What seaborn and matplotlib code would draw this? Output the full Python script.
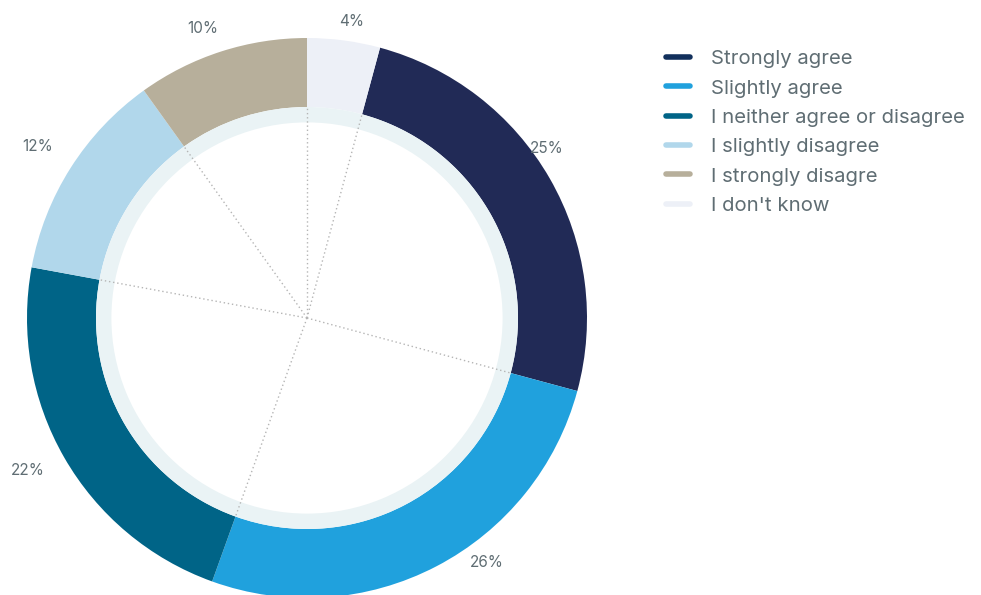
import numpy as np
import matplotlib.pyplot as plt
from matplotlib.lines import Line2D
import seaborn as sns

# data
categories = ["Strongly agree", "Slightly agree", "I neither agree or disagree",
              "I slightly disagree", "I strongly disagre", "I don't know"]
shares = [25.0, 26.3, 22.4, 12.2, 9.9, 4.2]
pct_labels = ["25%", "26%", "22%", "12%", "10%", "4%"]
colors = ["#212a56", "#20a1dd", "#006487", "#b1d7eb", "#b7af9b", "#edf0f7"]
legend_colors = ["#12305c", "#20a1dd", "#006487", "#b1d7eb", "#b7af9b", "#edf0f7"]

# label placement tweaks (degrees clockwise from slice middle, radius)
label_shift = [-5.4, -8.8, 1.3, 0.2, -1.9, 1.1]
label_radius = [1.05, 1.086, 1.135, 1.14, 1.10, 1.07]

sns.set_theme(style="white")
plt.rcParams["font.family"] = ["Inter", "DejaVu Sans"]
text_color = "#5f6d73"

fig = plt.figure(figsize=(9.81, 5.95), dpi=100)
W, H = 981, 595
cx, cy, R = 307, 318, 280
ax = fig.add_axes([(cx - R) / W, (H - cy - R) / H, 2 * R / W, 2 * R / H])

# start so that the last slice ("I don't know") begins at 12 o'clock
start = 90 - 360 * shares[-1] / sum(shares)
ring_w = 1 - 211 / 280
wedges, _ = ax.pie(shares, colors=colors, startangle=start, counterclock=False,
                   radius=1, wedgeprops=dict(width=ring_w, linewidth=0))

# inner light ring
ax.pie([1], colors=["#eaf3f5"], radius=1 - ring_w, wedgeprops=dict(width=0.055, linewidth=0))

# dotted spokes from the centre to each slice boundary
r_in = 1 - ring_w
for w in wedges:
    a = np.deg2rad(w.theta2)
    ax.plot([0, r_in * np.cos(a)], [0, r_in * np.sin(a)], color="#b5b5b5",
            linestyle=(0, (1, 2)), linewidth=1, zorder=3)

# percentage labels
for w, lab, d, r in zip(wedges, pct_labels, label_shift, label_radius):
    a = np.deg2rad((w.theta1 + w.theta2) / 2 - d)
    ax.text(r * np.cos(a), r * np.sin(a), lab, ha="center", va="center",
            fontsize=11, color=text_color)

ax.set_xlim(-1, 1)
ax.set_ylim(-1, 1)
ax.set_aspect("equal")
ax.axis("off")

handles = [Line2D([0], [0], color=c, linewidth=4, solid_capstyle="round") for c in legend_colors]
leg = fig.legend(handles, categories, loc="upper left", bbox_to_anchor=(666 / W, 1 - 50 / H),
                 frameon=False, fontsize=14.6, handlelength=1.2, handletextpad=1.0,
                 labelspacing=0.55, borderpad=0, borderaxespad=0, labelcolor=text_color)

fig.savefig("out.png", dpi=100)
